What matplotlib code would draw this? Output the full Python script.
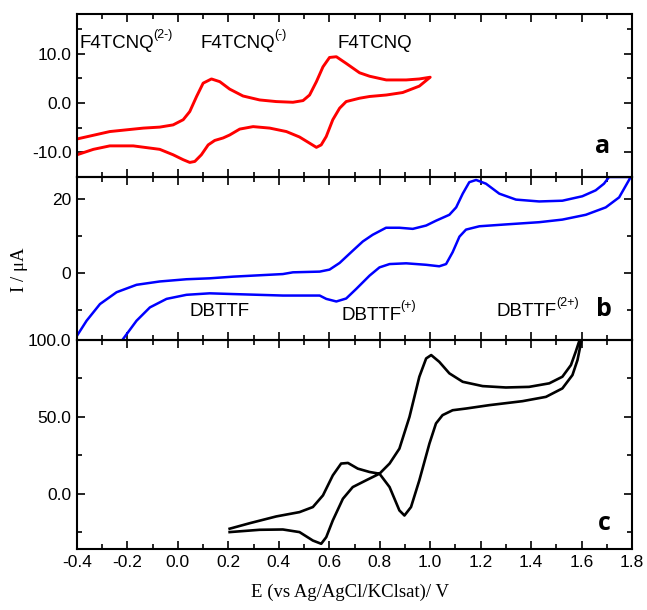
import matplotlib
matplotlib.use("Agg")
import matplotlib.pyplot as plt
from matplotlib.ticker import MultipleLocator, FixedLocator, FixedFormatter
from matplotlib.transforms import offset_copy

plt.rcParams['font.family'] = ['Liberation Sans', 'DejaVu Sans']
plt.rcParams['axes.unicode_minus'] = False

# ---- Panel a: F4TCNQ (red) ----
a_E = [-0.40, -0.27, -0.137, -0.072, -0.019, 0.021, 0.047, 0.074, 0.10, 0.133,
       0.166, 0.205, 0.258, 0.324, 0.39, 0.456, 0.496, 0.522, 0.549, 0.575,
       0.601, 0.628, 0.667, 0.72, 0.76, 0.826, 0.905, 0.957, 1.00,
       0.957, 0.891, 0.826, 0.76, 0.72, 0.667, 0.641, 0.614, 0.588, 0.568,
       0.549, 0.522, 0.482, 0.43, 0.364, 0.298, 0.245, 0.205, 0.179, 0.146,
       0.12, 0.093, 0.067, 0.047, 0.021, -0.019, -0.072, -0.177, -0.27, -0.335, -0.40]
a_I = [-7.3, -5.8, -5.1, -4.9, -4.45, -3.4, -1.75, 1.3, 4.0, 4.85,
       4.3, 2.8, 1.4, 0.6, 0.27, 0.13, 0.47, 1.6, 4.3, 7.3,
       9.2, 9.35, 8.0, 6.1, 5.4, 4.65, 4.65, 4.85, 5.2,
       3.4, 2.1, 1.6, 1.3, 0.95, 0.27, -1.07, -3.4, -6.8, -8.5,
       -9.0, -8.15, -6.9, -5.8, -5.1, -4.8, -5.3, -6.5, -7.1, -7.6,
       -8.5, -10.5, -11.85, -12.05, -11.5, -10.5, -9.4, -8.7, -8.7, -9.4, -10.5]

# ---- Panel b: DBTTF (blue) ----
b_E = [-0.408, -0.362, -0.309, -0.243, -0.164, -0.072, 0.034, 0.126, 0.219, 0.416,
       0.456, 0.562, 0.601, 0.641, 0.693, 0.733, 0.772, 0.825, 0.878, 0.931,
       0.984, 1.023, 1.076, 1.103, 1.129, 1.155, 1.182, 1.221, 1.274, 1.34,
       1.432, 1.524, 1.603, 1.656, 1.689, 1.709,
       1.795, 1.749, 1.696, 1.617, 1.524, 1.432, 1.30, 1.195, 1.142, 1.116,
       1.089, 1.063, 1.036, 0.984, 0.905, 0.839, 0.799, 0.76, 0.707, 0.667,
       0.628, 0.588, 0.562, 0.482, 0.416, 0.219, 0.126, 0.034, -0.045, -0.111,
       -0.164, -0.217]
b_I = [-17.7, -12.8, -8.3, -5.1, -3.1, -2.2, -1.6, -1.35, -0.9, -0.2,
       0.27, 0.46, 1.0, 2.8, 6.1, 8.6, 10.4, 12.3, 12.3, 12.0,
       12.9, 14.2, 15.8, 17.8, 21.5, 24.6, 25.2, 24.2, 21.5, 19.9,
       19.4, 19.6, 20.8, 22.4, 24.2, 26.0,
       26.0, 20.5, 17.8, 15.8, 14.5, 13.8, 13.2, 12.7, 11.8, 9.9,
       5.7, 2.5, 1.9, 2.3, 2.7, 2.5, 1.6, -0.6, -4.2, -6.8,
       -7.6, -6.9, -6.0, -6.0, -6.0, -5.6, -5.4, -5.8, -6.9, -9.2,
       -12.8, -17.7]

# ---- Panel c: mixture (black) ----
c_E = [0.205, 0.285, 0.39, 0.482, 0.535, 0.575, 0.614, 0.647, 0.674, 0.713,
       0.76, 0.799, 0.839, 0.878, 0.918, 0.957, 0.984, 1.004, 1.036, 1.076,
       1.129, 1.208, 1.30, 1.392, 1.472, 1.524, 1.558, 1.577, 1.59, 1.60,
       1.584, 1.564, 1.524, 1.459, 1.366, 1.234, 1.142, 1.089, 1.049, 1.023,
       0.997, 0.957, 0.924, 0.898, 0.878, 0.839, 0.799, 0.746, 0.693, 0.654,
       0.614, 0.588, 0.568, 0.535, 0.482, 0.416, 0.324, 0.205]
c_I = [-22.8, -19.2, -14.8, -12.0, -8.7, -1.1, 11.9, 19.6, 20.0, 16.3,
       14.1, 13.0, 19.6, 29.3, 50.0, 76.1, 88.0, 90.2, 85.8, 78.3,
       72.8, 70.0, 69.1, 69.5, 71.8, 76.1, 83.7, 92.4, 98.9, 100.0,
       87.0, 77.2, 68.5, 63.0, 60.2, 57.6, 55.4, 54.3, 51.1, 45.7,
       32.6, 8.7, -8.7, -14.2, -10.9, 4.3, 13.0, 8.7, 4.3, -3.3,
       -17.4, -28.3, -32.6, -30.5, -25.0, -23.3, -23.5, -25.0]

x_ticks = [-0.4, -0.2, 0.0, 0.2, 0.4, 0.6, 0.8, 1.0, 1.2, 1.4, 1.6, 1.8]
x_labels = ['-0.4', '-0.2', '0.0', '0.2', '0.4', '0.6', '0.8', '1.0', '1.2', '1.4', '1.6', '1.8']
a_yticks = [-10, 0, 10]
a_ylabels = ['-10.0', '0.0', '10.0']
b_yticks = [0, 20]
b_ylabels = ['0', '20']
c_yticks = [0, 50, 100]
c_ylabels = ['0.0', '50.0', '100.0']

fig = plt.figure(figsize=(6.47, 6.10), dpi=100)
L, R = 77 / 647, 632 / 647
def fy(p):
    return 1 - p / 610
axa = fig.add_axes([L, fy(177), R - L, fy(14) - fy(177)])
axb = fig.add_axes([L, fy(340), R - L, fy(177) - fy(340)])
axc = fig.add_axes([L, fy(549), R - L, fy(340) - fy(549)])

axa.plot(a_E, a_I, color='#ff0000', lw=2.1, solid_joinstyle='round')
axb.plot(b_E, b_I, color='#0000ff', lw=1.8, solid_joinstyle='round')
axc.plot(c_E, c_I, color='black', lw=1.9, solid_joinstyle='round')

axa.set_ylim(-15, 18)
axb.set_ylim(-18, 26)
axc.set_ylim(-36, 100)

for ax, yt, yl, ymin in [(axa, a_yticks, a_ylabels, 5), (axb, b_yticks, b_ylabels, 10),
                         (axc, c_yticks, c_ylabels, 25)]:
    ax.set_xlim(-0.4, 1.8)
    ax.xaxis.set_major_locator(FixedLocator(x_ticks))
    ax.xaxis.set_minor_locator(MultipleLocator(0.1))
    ax.yaxis.set_major_locator(FixedLocator(yt))
    ax.yaxis.set_major_formatter(FixedFormatter(yl))
    ax.yaxis.set_minor_locator(MultipleLocator(ymin))
    ax.tick_params(which='both', direction='in', top=True, right=True, labelsize=12.5,
                   width=1.2, pad=4)
    ax.tick_params(which='major', length=6)
    ax.tick_params(which='minor', length=3.5)
    for s in ax.spines.values():
        s.set_linewidth(1.5)
    ax.patch.set_alpha(0)

axa.tick_params(labelbottom=False)
axb.tick_params(labelbottom=False)
axc.xaxis.set_major_formatter(FixedFormatter(x_labels))

fig.canvas.draw()
renderer = fig.canvas.get_renderer()

def label_sup(ax, x, y, main, sup):
    t = ax.text(x, y, main, transform=ax.transAxes, fontsize=13.5, va='baseline', ha='left')
    if sup:
        bb = t.get_window_extent(renderer=renderer)
        w_pt = bb.width * 72 / fig.dpi
        tr = offset_copy(ax.transAxes, fig=fig, x=w_pt - 0.5, y=7.5, units='points')
        ax.text(x, y, sup, transform=tr, fontsize=9, va='baseline', ha='left')

label_sup(axa, 0.005, 0.79, 'F4TCNQ', '(2-)')
label_sup(axa, 0.222, 0.79, 'F4TCNQ', '(-)')
label_sup(axa, 0.47, 0.79, 'F4TCNQ', '')
axa.text(0.947, 0.19, 'a', transform=axa.transAxes, fontsize=18, fontweight='bold',
         family='Open Sans', ha='center', va='center')

label_sup(axb, 0.202, 0.145, 'DBTTF', '')
label_sup(axb, 0.476, 0.125, 'DBTTF', '(+)')
label_sup(axb, 0.756, 0.145, 'DBTTF', '(2+)')
axb.text(0.95, 0.19, 'b', transform=axb.transAxes, fontsize=18, fontweight='bold',
         family='Open Sans', ha='center', va='center')

axc.text(0.95, 0.12, 'c', transform=axc.transAxes, fontsize=18, fontweight='bold',
         family='Open Sans', ha='center', va='center')

fig.text(20 / 647, fy(270), 'I / \u03bcA', rotation=90, family='Liberation Serif',
         fontsize=13.5, ha='center', va='center')
fig.text(350 / 647, fy(592), 'E (vs Ag/AgCl/KClsat)/ V', family='Liberation Serif',
         fontsize=13.5, ha='center', va='center')

fig.savefig('out.png', dpi=100)
